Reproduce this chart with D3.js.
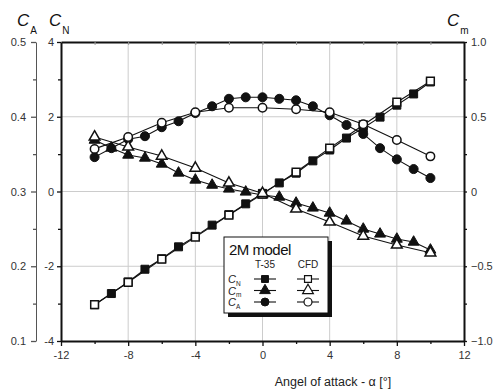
<!DOCTYPE html>
<html>
<head>
<meta charset="utf-8">
<script src="https://cdn.jsdelivr.net/npm/d3@7"></script>
<style>
  body { margin: 0; background: #fff; }
  text { font-family: "Liberation Sans", Arial, sans-serif; }
</style>
</head>
<body>
<div id="chart"></div>
<script>
// angles of attack
var alphaT35 = [-10,-9,-8,-7,-6,-5,-4,-3,-2,-1,0,1,2,3,4,5,6,7,8,9,10];
var alphaCFD = [-10,-8,-6,-4,-2,0,2,4,6,8,10];

// normal force coefficient (left inner axis)
var cnT35 = [-3.03,-2.73,-2.42,-2.08,-1.80,-1.48,-1.20,-0.90,-0.62,-0.33,-0.05,0.23,0.49,0.82,1.11,1.43,1.70,1.99,2.31,2.61,2.93];
var cnCFD = [-3.03,-2.43,-1.81,-1.22,-0.63,-0.07,0.52,1.16,1.78,2.39,2.95];

// pitching moment coefficient (right axis)
var cmT35 = [0.344,0.291,0.244,0.224,0.184,0.124,0.077,0.043,0.017,-0.003,-0.023,-0.037,-0.077,-0.110,-0.144,-0.197,-0.251,-0.284,-0.318,-0.338,-0.391];
var cmCFD = [0.365,0.298,0.237,0.157,0.057,-0.012,-0.117,-0.204,-0.298,-0.358,-0.41];

// axial force coefficient (left outer axis)
var caT35 = [0.346,0.358,0.370,0.374,0.386,0.394,0.405,0.414,0.424,0.426,0.426,0.424,0.422,0.414,0.402,0.389,0.377,0.358,0.343,0.330,0.318];
var caCFD = [0.357,0.373,0.392,0.406,0.412,0.412,0.410,0.406,0.390,0.369,0.347];

// ticks
var xMajor = [-12,-8,-4,0,4,8,12], xMinor = [-10,-6,-2,2,6,10];
var cnMajor = [-4,-2,0,2,4], cnMinor = [-3,-1,1,3];
var caMajor = [0.1,0.2,0.3,0.4,0.5], caMinor = [0.15,0.25,0.35,0.45];
var cmMajor = [-1,-0.5,0,0.5,1], cmMinor = [-0.75,-0.25,0.25,0.75];

var W = 497, H = 390;
var pLeft = 61, pRight = 464, pTop = 42, pBottom = 341;

var svg = d3.select("#chart").append("svg")
  .attr("width", W).attr("height", H);

var x = d3.scaleLinear().domain([-12, 12]).range([pLeft, pRight]);
var yN = d3.scaleLinear().domain([-4, 4]).range([pBottom, pTop]);
var yA = d3.scaleLinear().domain([0.1, 0.5]).range([pBottom, pTop]);
var yM = d3.scaleLinear().domain([-1, 1]).range([pBottom, pTop]);

// grid
svg.append("g").selectAll("line").data([-8,-4,0,4,8]).enter().append("line")
  .attr("x1", d => x(d)).attr("x2", d => x(d))
  .attr("y1", pTop).attr("y2", pBottom)
  .attr("stroke", "#cccccc").attr("stroke-width", 1);
svg.append("g").selectAll("line").data([-2,0,2]).enter().append("line")
  .attr("x1", pLeft).attr("x2", pRight)
  .attr("y1", d => yN(d)).attr("y2", d => yN(d))
  .attr("stroke", "#cccccc").attr("stroke-width", 1);

function styleAxis(g, width, color) {
  g.select(".domain").attr("stroke", color).attr("stroke-width", width);
  g.selectAll(".tick line").attr("stroke", color).attr("stroke-width", 1.3);
  g.selectAll(".tick text").attr("fill", "#333").attr("font-size", 11)
    .attr("font-family", "Liberation Sans, Arial, sans-serif");
}

var hy = d => String(d).replace("−", "-");

// bottom axis
var gx = svg.append("g").attr("transform", "translate(0," + pBottom + ")")
  .call(d3.axisBottom(x).tickValues(xMajor).tickSize(5).tickSizeOuter(0).tickPadding(5).tickFormat(hy));
styleAxis(gx, 2, "#111");
svg.append("g").attr("transform", "translate(0," + pBottom + ")")
  .call(d3.axisBottom(x).tickValues(xMinor).tickSize(3).tickFormat(""))
  .call(g => g.select(".domain").remove())
  .selectAll("line").attr("stroke", "#111").attr("stroke-width", 1.3);

// top axis (inward minor ticks)
var gt = svg.append("g").attr("transform", "translate(0," + pTop + ")")
  .call(d3.axisBottom(x).tickValues(xMajor.slice(1, -1).concat(xMinor)).tickSize(3).tickSizeOuter(0).tickFormat(""));
styleAxis(gt, 2, "#111");
gt.selectAll(".tick line").attr("stroke", "#999").attr("stroke-width", 1);

// left inner axis C_N
var gn = svg.append("g").attr("transform", "translate(" + pLeft + ",0)")
  .call(d3.axisLeft(yN).tickValues(cnMajor).tickSize(4).tickSizeOuter(0).tickPadding(3).tickFormat(hy));
styleAxis(gn, 2, "#111");
svg.append("g").attr("transform", "translate(" + pLeft + ",0)")
  .call(d3.axisLeft(yN).tickValues(cnMinor).tickSize(3).tickFormat(""))
  .call(g => g.select(".domain").remove())
  .selectAll("line").attr("stroke", "#111").attr("stroke-width", 1.3);

// left outer axis C_A
var ga = svg.append("g").attr("transform", "translate(36,0)")
  .call(d3.axisLeft(yA).tickValues(caMajor).tickSize(5).tickSizeOuter(0).tickPadding(5).tickFormat(d3.format(".1f")));
styleAxis(ga, 1, "#555");
svg.append("g").attr("transform", "translate(36,0)")
  .call(d3.axisLeft(yA).tickValues(caMinor).tickSize(3).tickFormat(""))
  .call(g => g.select(".domain").remove())
  .selectAll("line").attr("stroke", "#555").attr("stroke-width", 1.3);

// right axis C_m
var gm = svg.append("g").attr("transform", "translate(" + pRight + ",0)")
  .call(d3.axisRight(yM).tickValues(cmMajor).tickSize(3).tickSizeOuter(0).tickPadding(4)
    .tickFormat(d => d === 0 ? "0" : d3.format(".1f")(d)));
styleAxis(gm, 2, "#111");
svg.append("g").attr("transform", "translate(" + pRight + ",0)")
  .call(d3.axisRight(yM).tickValues(cmMinor).tickSize(3).tickFormat(""))
  .call(g => g.select(".domain").remove())
  .selectAll("line").attr("stroke", "#111").attr("stroke-width", 1.3);

// axis titles
function coefTitle(px, py, sub, size, subSize) {
  var t = svg.append("text").attr("x", px).attr("y", py).attr("fill", "#111");
  t.append("tspan").attr("font-style", "italic").attr("font-size", size).text("C");
  t.append("tspan").attr("font-size", subSize).attr("dx", 1).attr("dy", size * 0.45).text(sub);
  return t;
}
coefTitle(17, 26, "A", 17, 10);
coefTitle(49, 26, "N", 17, 10);
coefTitle(447, 26, "m", 17, 10);

svg.append("text").attr("x", 333).attr("y", 386).attr("text-anchor", "middle")
  .attr("font-size", 12.5).attr("fill", "#222")
  .text("Angel of attack - α [°]");

// series
var series = [
  {xs: alphaT35, ys: cnT35, y: yN, sym: d3.symbolSquare, size: 64, open: false},
  {xs: alphaT35, ys: cmT35, y: yM, sym: d3.symbolTriangle, size: 52, open: false},
  {xs: alphaT35, ys: caT35, y: yA, sym: d3.symbolCircle, size: 64, open: false},
  {xs: alphaCFD, ys: cnCFD, y: yN, sym: d3.symbolSquare, size: 60, open: true},
  {xs: alphaCFD, ys: cmCFD, y: yM, sym: d3.symbolTriangle, size: 50, open: true},
  {xs: alphaCFD, ys: caCFD, y: yA, sym: d3.symbolCircle, size: 56, open: true}
];

series.forEach(function(s) {
  var pts = s.xs.map((a, i) => [x(a), s.y(s.ys[i])]);
  svg.append("path").attr("d", d3.line()(pts))
    .attr("fill", "none").attr("stroke", "#111").attr("stroke-width", 1.1);
});
series.forEach(function(s) {
  var pts = s.xs.map((a, i) => [x(a), s.y(s.ys[i])]);
  svg.append("g").selectAll("path").data(pts).enter().append("path")
    .attr("d", d3.symbol().type(s.sym).size(s.size))
    .attr("transform", d => "translate(" + d[0] + "," + d[1] + ")")
    .attr("fill", s.open ? "#fff" : "#111")
    .attr("stroke", "#111").attr("stroke-width", s.open ? 1.5 : 1);
});

// legend
var lg = svg.append("g");
lg.append("rect").attr("x", 228).attr("y", 241).attr("width", 104).attr("height", 76).attr("fill", "#111");
lg.append("rect").attr("x", 224).attr("y", 237).attr("width", 104).attr("height", 76)
  .attr("fill", "#fff").attr("stroke", "#111").attr("stroke-width", 1);
lg.append("text").attr("x", 229).attr("y", 255).attr("font-size", 15).attr("fill", "#111")
  .attr("letter-spacing", -0.5).text("2M model");
lg.append("text").attr("x", 265).attr("y", 268).attr("text-anchor", "middle")
  .attr("font-size", 10).attr("fill", "#222").text("T-35");
lg.append("text").attr("x", 308).attr("y", 268).attr("text-anchor", "middle")
  .attr("font-size", 10).attr("fill", "#222").text("CFD");

var legRows = [
  {sub: "N", sym: d3.symbolSquare, size: 48},
  {sub: "m", sym: d3.symbolTriangle, size: 50},
  {sub: "A", sym: d3.symbolCircle, size: 50}
];
legRows.forEach(function(r, i) {
  var yy = 279 + i * 11.5;
  var t = lg.append("text").attr("x", 228).attr("y", yy + 4).attr("fill", "#222");
  t.append("tspan").attr("font-style", "italic").attr("font-size", 11).text("C");
  t.append("tspan").attr("font-size", 6.5).attr("dy", 2.5).text(r.sub);
  [[265, false], [308, true]].forEach(function(c) {
    lg.append("line").attr("x1", c[0] - 11).attr("x2", c[0] + 11)
      .attr("y1", yy).attr("y2", yy).attr("stroke", "#111").attr("stroke-width", 1.1);
    lg.append("path").attr("d", d3.symbol().type(r.sym).size(r.size)())
      .attr("transform", "translate(" + c[0] + "," + yy + ")")
      .attr("fill", c[1] ? "#fff" : "#111").attr("stroke", "#111")
      .attr("stroke-width", c[1] ? 1.2 : 1);
  });
});
</script>
</body>
</html>
